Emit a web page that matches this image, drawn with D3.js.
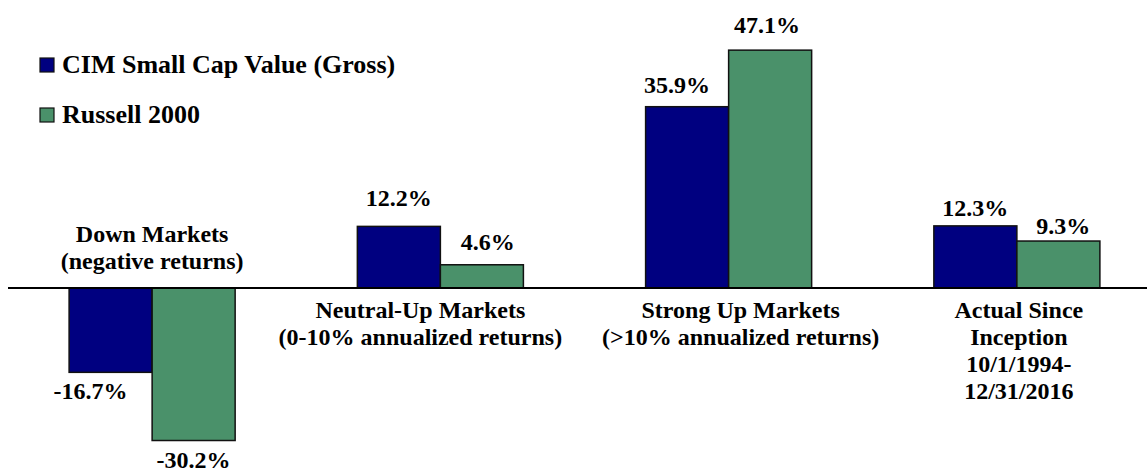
<!DOCTYPE html>
<html lang="en">

<head>
    <meta charset="UTF-8">
    <title>Market Environment Returns</title>
    <script src="https://d3js.org/d3.v7.min.js"></script>
    <style>
        body { margin: 0; background: #fff; }
    </style>
</head>

<body>
    <script>
        // data
        var categories = ["down", "neutral", "strong", "actual"];
        var categoryLines = [
            ["Down Markets", "(negative returns)"],
            ["Neutral-Up Markets", "(0-10% annualized returns)"],
            ["Strong Up Markets", "(>10% annualized returns)"],
            ["Actual Since", "Inception", "10/1/1994-", "12/31/2016"]
        ];
        var seriesNames = ["CIM Small Cap Value (Gross)", "Russell 2000"];
        var cimValues = [-16.7, 12.2, 35.9, 12.3];
        var russellValues = [-30.2, 4.6, 47.1, 9.3];
        var colors = ["#000080", "#4a916a"];

        // hand placement of labels, as in the original slide
        var catLabelShift = [0, -20, 12, 2];
        var valueDx = [[-20, 0], [0, 6], [-10, -3], [0, 5]];
        var valueGap = [[27, 27], [20, 15], [14, 17], [10, 7]];

        var W = 1147, H = 473;
        var fontSize = 24, legendSize = 26;

        // serif bold text helper
        function serif(sel, size) {
            return sel.style("font-family", "'Liberation Serif'")
                .style("font-weight", "bold")
                .style("font-size", size + "px")
                .style("fill", "#000");
        }

        var svg = d3.select("body")
            .append("svg")
            .attr("width", W)
            .attr("height", H);

        // scales
        var x = d3.scaleBand()
            .domain(categories)
            .range([8, 1161])
            .paddingInner(0.424)
            .paddingOuter(0.212);

        var xs = d3.scaleBand()
            .domain([0, 1])
            .range([0, x.bandwidth()]);

        var y = d3.scaleLinear()
            .domain([-35, 50])
            .range([464.75, 35.5]);

        var rows = categories.map(function (c, i) {
            return { cat: c, i: i, vals: [cimValues[i], russellValues[i]], lines: categoryLines[i] };
        });

        // bars
        var groups = svg.selectAll(".grp")
            .data(rows)
            .enter().append("g")
            .attr("class", "grp")
            .attr("transform", d => "translate(" + x(d.cat) + ",0)");

        groups.selectAll("rect")
            .data(d => d.vals.map((v, s) => ({ v: v, s: s, i: d.i })))
            .enter().append("rect")
            .attr("x", d => xs(d.s))
            .attr("width", xs.bandwidth())
            .attr("y", d => y(Math.max(0, d.v)))
            .attr("height", d => Math.abs(y(d.v) - y(0)))
            .attr("fill", d => colors[d.s])
            .attr("stroke", "#111")
            .attr("stroke-width", 1.5);

        // value labels
        groups.selectAll(".val")
            .data(d => d.vals.map((v, s) => ({ v: v, s: s, i: d.i })))
            .enter().append("text")
            .attr("class", "val")
            .attr("x", d => xs(d.s) + xs.bandwidth() / 2 + valueDx[d.i][d.s])
            .attr("y", d => d.v >= 0 ? y(d.v) - valueGap[d.i][d.s] : y(d.v) + valueGap[d.i][d.s])
            .attr("text-anchor", "middle")
            .call(serif, fontSize)
            .text(d => d.v.toFixed(1) + "%");

        // zero axis
        svg.append("line")
            .attr("x1", 8).attr("x2", W)
            .attr("y1", y(0)).attr("y2", y(0))
            .attr("stroke", "#000")
            .attr("stroke-width", 2);

        // category labels: above the axis when the group goes negative
        var lineH = 27;
        groups.each(function (d) {
            var neg = d3.min(d.vals) < 0;
            var n = d.lines.length;
            var y0 = neg ? y(0) - 19 - (n - 1) * lineH : y(0) + 30;
            var t = d3.select(this).append("text")
                .attr("text-anchor", "middle")
                .call(serif, fontSize);
            d.lines.forEach(function (l, k) {
                t.append("tspan")
                    .attr("x", x.bandwidth() / 2 + catLabelShift[d.i])
                    .attr("y", y0 + k * lineH)
                    .text(l);
            });
        });

        // legend
        var legend = svg.selectAll(".leg")
            .data(seriesNames)
            .enter().append("g")
            .attr("class", "leg")
            .attr("transform", (d, i) => "translate(40," + (58 + i * 50) + ")");

        legend.append("rect")
            .attr("width", 14).attr("height", 14)
            .attr("fill", (d, i) => colors[i])
            .attr("stroke", "#111")
            .attr("stroke-width", 1.2);

        legend.append("text")
            .attr("x", 22)
            .attr("y", 15)
            .call(serif, legendSize)
            .text(d => d);
    </script>
</body>

</html>
